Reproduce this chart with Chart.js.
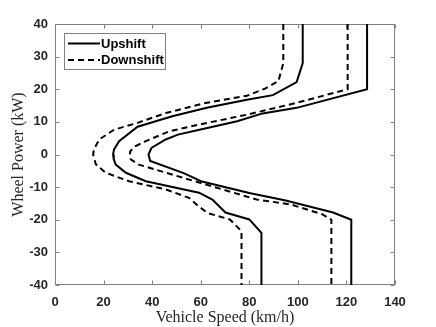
<!DOCTYPE html>
<html>
<head>
<meta charset="utf-8">
<script src="https://cdn.jsdelivr.net/npm/chart.js@4.4.1/dist/chart.umd.min.js"></script>
<style>
body { margin: 0; background: #fff; }
</style>
</head>
<body>
<canvas id="shift_chart" width="436" height="327"></canvas>
<script>
// shift maps (speed in km/h, wheel power in kW)
var upHighSpeed = [128.5, 128.5, 99.5, 85.5, 75, 59.5, 50.6, 45.6, 39.7, 38.5, 39.2, 53, 60.5, 80, 95, 114.5, 122, 122];
var upHighPower = [40, 20, 14.3, 12.6, 10.2, 7.6, 6.1, 4.6, 2, 0, -2, -5.7, -8.3, -11.8, -14.1, -17.8, -20, -40];

var upLowSpeed = [102, 102, 99.5, 89.7, 79, 62.5, 48.3, 34, 26.4, 24.3, 23.9, 24.2, 25, 29.2, 37.4, 59.3, 64.8, 70.2, 80, 85, 85];
var upLowPower = [40, 28, 22.2, 18.2, 16.8, 14.3, 11.7, 8.5, 4.1, 1.5, 0, -1.5, -3.1, -5.6, -8.2, -11.7, -13.8, -17.8, -19.9, -24, -40];

var downHighSpeed = [120.5, 120.5, 99.3, 79, 59.5, 47, 37.4, 33, 31, 30.8, 31.2, 34.5, 58, 83, 97, 110, 113.8, 113.8];
var downHighPower = [40, 20, 15.8, 12.2, 9.2, 7.1, 4.1, 2.5, 1, 0, -1.5, -3.1, -8.3, -13.8, -15.3, -18.3, -20, -40];

var downLowSpeed = [94, 94, 92, 86.5, 79, 62, 45.6, 34, 24.3, 18.2, 16, 15.7, 16.8, 20.9, 30.5, 45.6, 55.2, 59, 63, 72, 76.8, 76.8];
var downLowPower = [40, 28, 22.5, 20.2, 18, 15.8, 12.7, 9.7, 7.6, 4.6, 1.5, 0, -3, -5.6, -8.2, -10.7, -13.3, -15.8, -18, -19.9, -23.5, -40];

var xTicks = [0, 20, 40, 60, 80, 100, 120, 140];
var yTicks = [-40, -30, -20, -10, 0, 10, 20, 30, 40];

function pts(sp, pw) {
    return sp.map(function(s, i) { return {x: s, y: pw[i]}; });
}

var dash = [6, 4];
var axisGray = '#808080';
var textCol = '#262626';

function curve(label, sp, pw, dashed) {
    return {
        label: label,
        data: pts(sp, pw),
        showLine: true,
        borderColor: '#000',
        backgroundColor: '#000',
        borderWidth: 2,
        borderDash: dashed ? dash : [],
        pointRadius: 0,
        fill: false,
        tension: 0
    };
}

// box + inward ticks on all four sides, like the matlab axes
var framePlugin = {
    id: 'frame',
    beforeDatasetsDraw: function(chart) {
        var ctx = chart.ctx, a = chart.chartArea;
        var xs = chart.scales.x, ys = chart.scales.y;
        var L = Math.round(a.left) + 0.5, R = Math.round(a.right) - 0.5;
        var T = Math.round(a.top) + 0.5, B = Math.round(a.bottom) - 0.5;
        ctx.save();
        ctx.strokeStyle = axisGray;
        ctx.lineWidth = 1;
        ctx.strokeRect(L, T, R - L, B - T);
        ctx.beginPath();
        xTicks.forEach(function(v) {
            var px = Math.round(xs.getPixelForValue(v)) + 0.5;
            ctx.moveTo(px, B); ctx.lineTo(px, B - 4);
            ctx.moveTo(px, T); ctx.lineTo(px, T + 4);
        });
        yTicks.forEach(function(v) {
            var py = Math.round(ys.getPixelForValue(v)) + 0.5;
            ctx.moveTo(L, py); ctx.lineTo(L + 4, py);
            ctx.moveTo(R, py); ctx.lineTo(R - 4, py);
        });
        ctx.stroke();
        ctx.restore();
    }
};

// legend inside the plot, top left, with a box
var boxLegend = {
    id: 'boxLegend',
    afterDatasetsDraw: function(chart) {
        var ctx = chart.ctx;
        var items = chart.data.datasets.slice(0, 2);
        var left = 64.5, top = 33.5, w = 101, h = 36;
        ctx.save();
        ctx.fillStyle = '#fff';
        ctx.fillRect(left, top, w, h);
        ctx.strokeStyle = axisGray;
        ctx.lineWidth = 1;
        ctx.strokeRect(left, top, w, h);
        ctx.font = 'bold 13px "Liberation Sans", Arial, sans-serif';
        ctx.textBaseline = 'middle';
        ctx.fillStyle = '#000';
        items.forEach(function(ds, i) {
            var y = 43.5 + i * 16.5;
            ctx.beginPath();
            ctx.setLineDash(ds.borderDash);
            ctx.strokeStyle = '#000';
            ctx.lineWidth = 2;
            ctx.moveTo(68, y);
            ctx.lineTo(100, y);
            ctx.stroke();
            ctx.setLineDash([]);
            ctx.fillText(ds.label, 101, y + 0.5);
        });
        ctx.restore();
    }
};

var ctx = document.getElementById('shift_chart').getContext('2d');
new Chart(ctx, {
    type: 'scatter',
    data: {
        datasets: [
            curve('Upshift', upHighSpeed, upHighPower, false),
            curve('Downshift', downHighSpeed, downHighPower, true),
            curve('Upshift', upLowSpeed, upLowPower, false),
            curve('Downshift', downLowSpeed, downLowPower, true)
        ]
    },
    options: {
        responsive: false,
        animation: false,
        layout: {padding: {left: 0, right: 41, top: 24, bottom: 0}},
        plugins: {
            legend: {display: false},
            tooltip: {enabled: false}
        },
        scales: {
            x: {
                type: 'linear',
                min: 0, max: 140,
                afterBuildTicks: function(s) { s.ticks = xTicks.map(function(v) { return {value: v}; }); },
                afterFit: function(s) { s.height = 42; },
                grid: {display: false, drawTicks: false},
                border: {display: false},
                ticks: {
                    color: textCol,
                    padding: 10,
                    maxRotation: 0,
                    font: {family: '"Liberation Sans", Arial, sans-serif', size: 13, weight: 'bold'}
                },
                title: {
                    display: true,
                    text: 'Vehicle Speed (km/h)',
                    color: textCol,
                    padding: {top: 0, bottom: 0},
                    font: {family: '"Liberation Serif", "Times New Roman", serif', size: 16, weight: 'normal'}
                }
            },
            y: {
                type: 'linear',
                min: -40, max: 40,
                afterBuildTicks: function(s) { s.ticks = yTicks.map(function(v) { return {value: v}; }); },
                afterFit: function(s) { s.width = 55; },
                grid: {display: false, drawTicks: false},
                border: {display: false},
                ticks: {
                    color: textCol,
                    padding: 7,
                    font: {family: '"Liberation Sans", Arial, sans-serif', size: 13, weight: 'bold'}
                },
                title: {
                    display: true,
                    text: 'Wheel Power (kW)',
                    color: textCol,
                    padding: {top: 9, bottom: 0},
                    font: {family: '"Liberation Serif", "Times New Roman", serif', size: 16, weight: 'normal'}
                }
            }
        }
    },
    plugins: [framePlugin, boxLegend]
});
</script>
</body>
</html>
